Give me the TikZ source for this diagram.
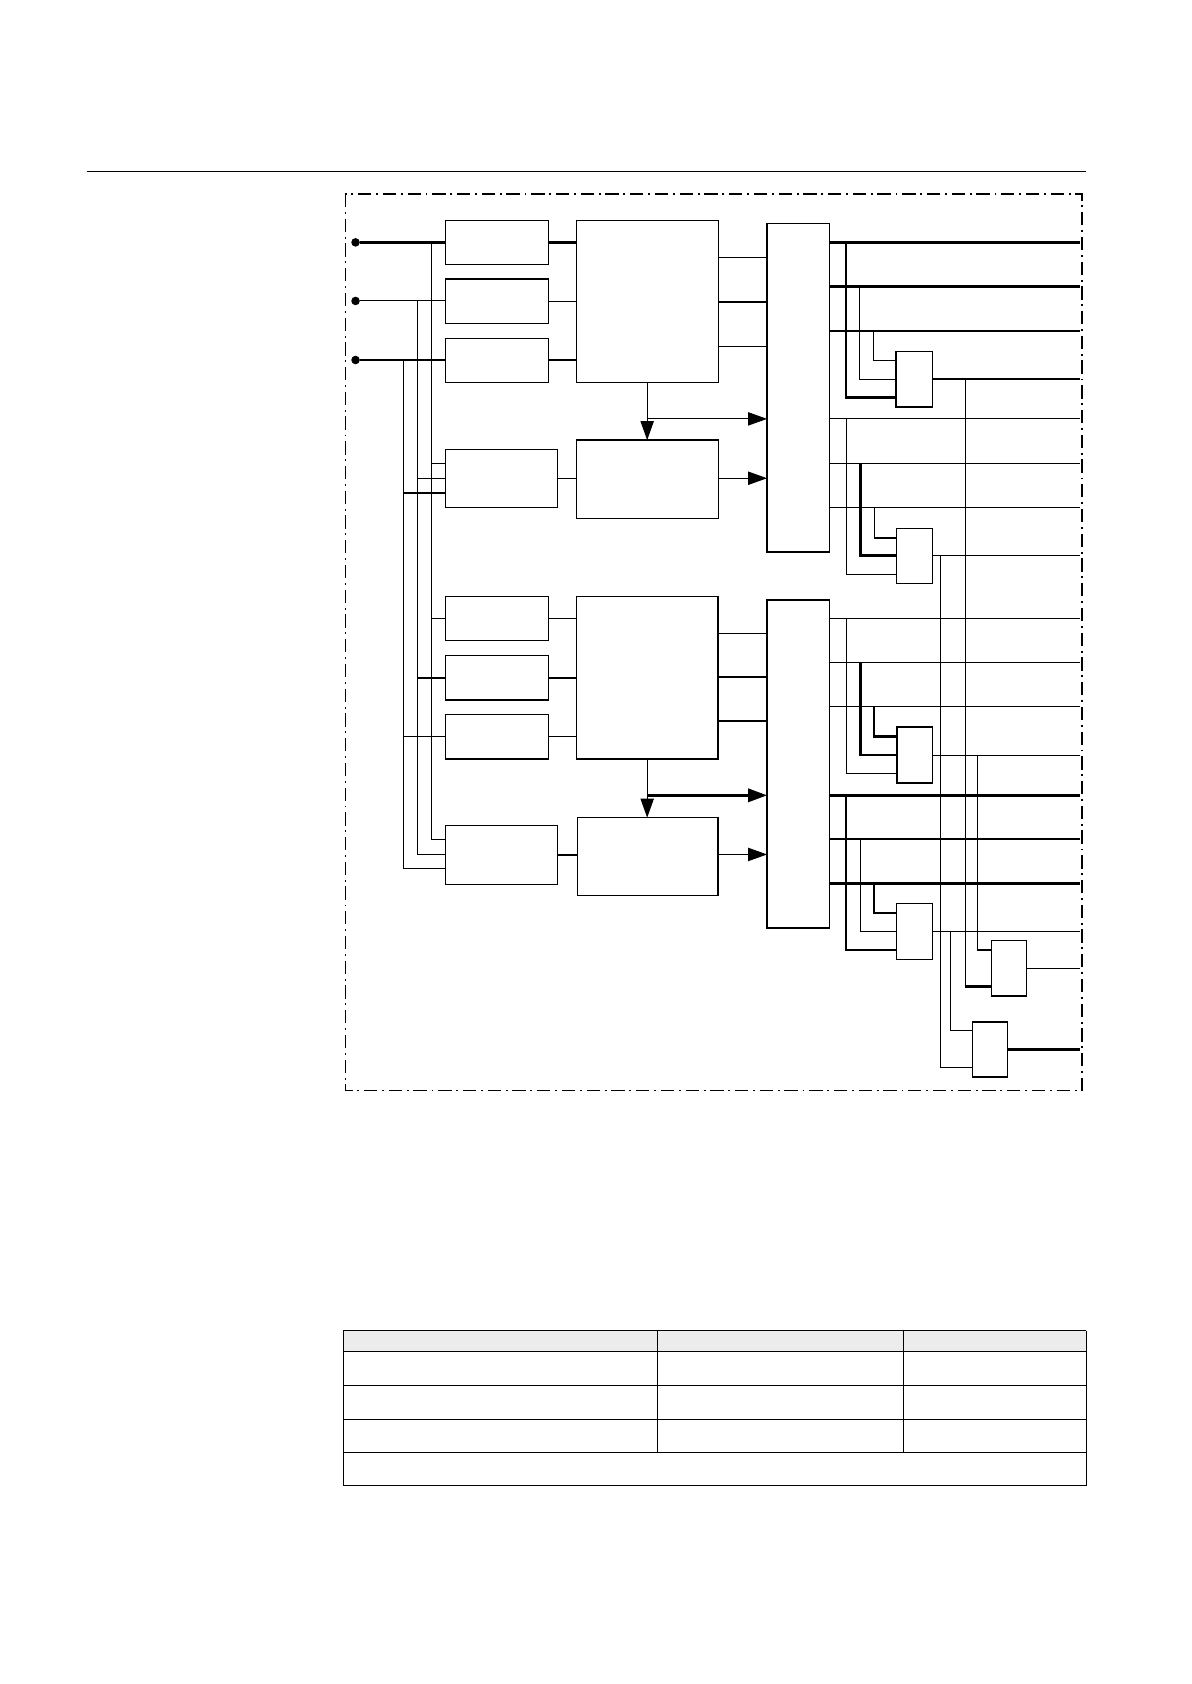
\documentclass[tikz,border=0pt]{standalone}
\usetikzlibrary{arrows.meta}
\newcommand{\mybox}[5]{\node[boxs, minimum width={(#4-#2)*0.02cm}, minimum height={(#5-#3)*0.02cm}] (#1) at ({(#2+#4)/2},{(#3+#5)/2}) {};}
\tikzset{
 boxs/.style={draw, line width=0.7pt, inner sep=0pt, outer sep=0pt},
 thn/.style={line width=0.55pt},
 thk/.style={line width=1.4pt},
 arr/.style={-{Triangle[length=10pt,width=7pt]}},
 dot/.style={circle, fill, inner sep=0pt, minimum size=4.5pt},
 dashdot/.style={line width=0.8pt, dash pattern=on 7pt off 2.5pt on 1pt off 2.5pt}
}
\begin{document}
\begin{tikzpicture}[x=0.02cm,y=-0.02cm]
\useasboundingbox (0,0) rectangle (1100,1555);
\draw[thn] (80,158) -- (1003,158);
\draw[dashdot] (319,179) rectangle (999,1007);
% boxes
\mybox{b1}{411.5}{203.6}{506.5}{244.5}
\mybox{b2}{411.5}{257.6}{506.5}{298.6}
\mybox{b3}{411.5}{312.4}{506.5}{353.4}
\mybox{A}{532.5}{203.6}{663.5}{353.4}
\mybox{C}{411.5}{415}{514.7}{468.7}
\mybox{B}{532.5}{406.4}{663.5}{479}
\mybox{M1}{708.3}{206.4}{766}{509.6}
\mybox{b4}{411.5}{550.5}{506.5}{591.5}
\mybox{b5}{411.5}{605.3}{506.5}{646.3}
\mybox{b6}{411.5}{660}{506.5}{700.7}
\mybox{A2}{532.5}{550.5}{663}{700.7}
\mybox{C2}{411.5}{762}{515}{817}
\mybox{B2}{533}{755}{663}{827}
\mybox{M2}{708.3}{554}{766}{857}
\mybox{G1}{827.5}{324.5}{860.8}{375.8}
\mybox{G2}{828}{487.9}{860.8}{539}
\mybox{G3}{828.2}{671.4}{860.8}{723}
\mybox{G6}{828}{834.2}{861}{886}
\mybox{G4}{915.6}{868.7}{947.9}{919.6}
\mybox{G5}{898}{943.8}{930.5}{994.6}
% inputs
\node[dot] (in1) at (328.3,223.8) {};
\node[dot] (in2) at (328.3,277.9) {};
\node[dot] (in3) at (328.3,332.4) {};
\draw[thk] (in1) -- (in1 -| b1.west);
\draw[thn] (in2) -- (in2 -| b2.west);
\draw[thk] (in3) -- (in3 -| b3.west);
% bus
\draw[thn] (398.4,223.8) -- (398.4,775) -- (411.5,775);
\draw[thn] (385.5,277.9) -- (385.5,789) -- (411.5,789);
\draw[thn] (372.4,332.4) -- (372.4,802) -- (411.5,802);
\draw[thn] (398.4,428) -- (411.5,428);
\draw[thn] (385.5,441.6) -- (411.5,441.6);
\draw[thk] (372.4,455.2) -- (411.5,455.2);
\draw[thn] (398.4,571) -- (411.5,571);
\draw[thk] (385.5,626) -- (411.5,626);
\draw[thn] (372.4,680.4) -- (411.5,680.4);
% to big boxes
\draw[thk] (506.5,223.8) -- (532.5,223.8);
\draw[thn] (506.5,278) -- (532.5,278);
\draw[thk] (506.5,332.4) -- (532.5,332.4);
\draw[thn] (C.east) -- (B.west |- C.east);
\draw[thn] (506.5,571) -- (532.5,571);
\draw[thk] (506.5,626) -- (532.5,626);
\draw[thn] (506.5,680.4) -- (532.5,680.4);
\draw[thn] (C2.east) -- (B2.west |- C2.east);
% to mux
\draw[thn] (663.5,238) -- (708.3,238);
\draw[thk] (663.5,279) -- (708.3,279);
\draw[thn] (663.5,320) -- (708.3,320);
\draw[thn,arr] (597.6,353.4) -- (597.6,406.4);
\draw[thn,arr] (597.6,386.8) -- (708.3,386.8);
\draw[thn,arr] (663.5,441.6) -- (708.3,441.6);
\draw[thn] (663,584.7) -- (708.3,584.7);
\draw[thk] (663,625) -- (708.3,625);
\draw[thk] (663,665.9) -- (708.3,665.9);
\draw[thn,arr] (597.6,700.7) -- (597.6,755);
\draw[thk,arr] (597.6,734.4) -- (708.3,734.4);
\draw[thn,arr] (663,789) -- (708.3,789);
% M1 outputs
\draw[thk] (766,223.8) -- (997,223.8);
\draw[thk] (766,264.8) -- (997,264.8);
\draw[thk] (766,305.7) -- (997,305.7);
\draw[thn] (766,386.8) -- (997,386.8);
\draw[thn] (766,428) -- (997,428);
\draw[thn] (766,468.7) -- (997,468.7);
\draw[thk] (781.3,223.8) -- (781.3,367.3) -- (827.5,367.3);
\draw[thn] (793.7,264.8) -- (793.7,350) -- (827.5,350);
\draw[thn] (807,305.7) -- (807,332.7) -- (827.5,332.7);
\draw[thk] (860.8,350) -- (997,350);
\draw[thn] (781.9,386.8) -- (781.9,530.6) -- (828,530.6);
\draw[thk] (794.5,428) -- (794.5,513.2) -- (828,513.2);
\draw[thn] (807.7,468.7) -- (807.7,496.8) -- (828,496.8);
\draw[thn] (860.8,513.2) -- (997,513.2);
\draw[thn] (891.5,350) -- (891.5,911);
\draw[thk] (891.5,911) -- (915.6,911);
\draw[thn] (868.2,513.2) -- (868.2,985.8) -- (898,985.8);
% M2 outputs
\draw[thn] (766,571) -- (997,571);
\draw[thn] (766,611.7) -- (997,611.7);
\draw[thn] (766,652.5) -- (997,652.5);
\draw[thk] (766,734.4) -- (997,734.4);
\draw[thk] (766,774.8) -- (997,774.8);
\draw[thk] (766,815.6) -- (997,815.6);
\draw[thn] (781.7,571) -- (781.7,714.5) -- (828.2,714.5);
\draw[thk] (794.4,611.7) -- (794.4,697.2) -- (828.2,697.2);
\draw[thk] (807.1,652.5) -- (807.1,680.2) -- (828.2,680.2);
\draw[thn] (860.8,697.2) -- (997,697.2);
\draw[thn] (902.3,697.2) -- (902.3,877.2) -- (915.6,877.2);
\draw[thk] (781.1,734.4) -- (781.1,877.2) -- (828,877.2);
\draw[thn] (794.8,774.8) -- (794.8,859.9) -- (828,859.9);
\draw[thk] (807.1,815.6) -- (807.1,843) -- (828,843);
\draw[thn] (861,859.9) -- (997,859.9);
\draw[thn] (877.8,859.9) -- (877.8,951.6) -- (898,951.6);
\draw[thn] (947.9,894.2) -- (997,894.2);
\draw[thk] (930.5,969.2) -- (997,969.2);
% table
\fill[gray!15] (317,1229) rectangle (1003,1248);
\foreach \yy in {1229,1248,1279,1311,1341,1372} \draw[thn] (317,\yy) -- (1003,\yy);
\draw[thn] (317,1229) -- (317,1372);
\draw[thn] (1003,1229) -- (1003,1372);
\draw[thn] (607,1229) -- (607,1341);
\draw[thn] (834,1229) -- (834,1341);
\end{tikzpicture}
\end{document}
